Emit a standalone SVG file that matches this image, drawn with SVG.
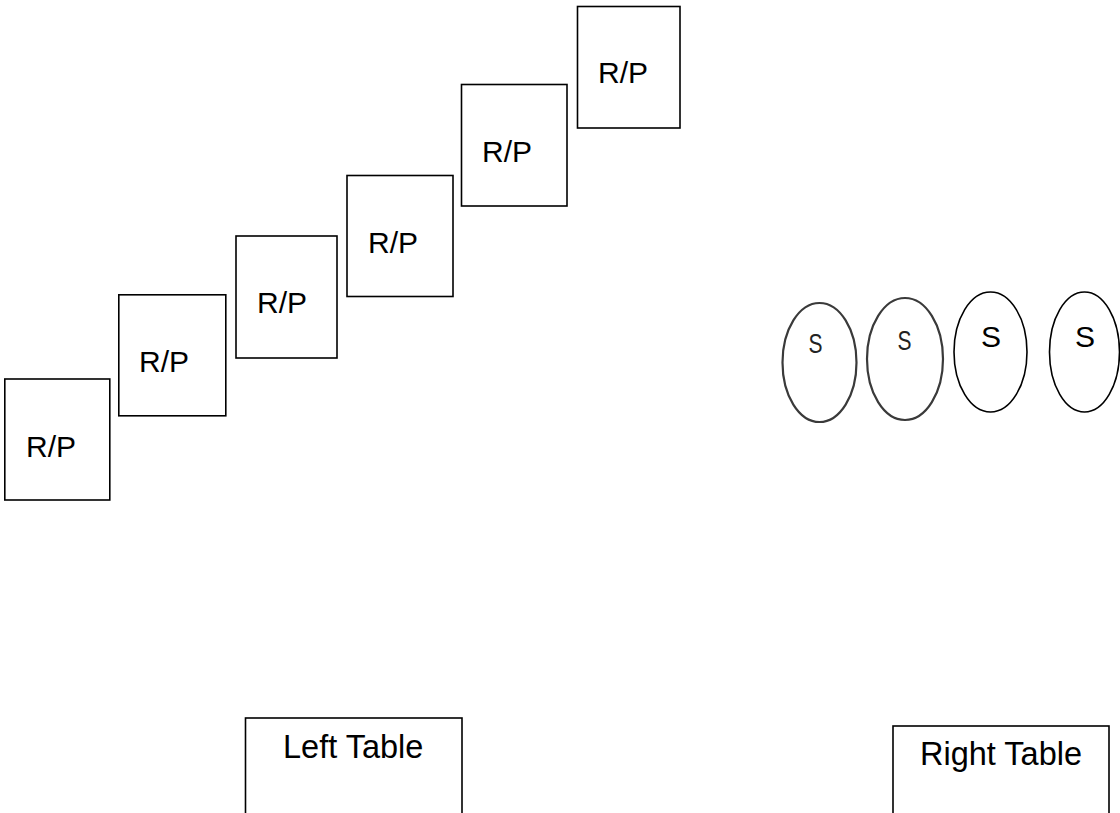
<svg xmlns="http://www.w3.org/2000/svg" width="1120" height="813" viewBox="0 0 1120 813">
<style>
.box{fill:#fff;stroke:#000;stroke-width:1.6}
.lbl{font-family:"Liberation Sans",Arial,sans-serif;font-size:30px;fill:#000}
.tbl{font-family:"Liberation Sans",Arial,sans-serif;font-size:32.5px;fill:#000}
.ell{fill:#fff;stroke:#000;stroke-width:1.6}
.ellg{fill:#fff;stroke:#3a3a3a;stroke-width:2.2}
.sm{font-family:"Liberation Sans",Arial,sans-serif;font-size:28px;fill:#222}
</style>
<rect width="1120" height="813" fill="#fff"/>
<g id="rp1"><rect class="box" x="4.8" y="379" width="105" height="121"/><text class="lbl" x="26" y="457">R/P</text></g>
<g id="rp2"><rect class="box" x="118.8" y="294.8" width="107" height="121"/><text class="lbl" x="139" y="372">R/P</text></g>
<g id="rp3"><rect class="box" x="236" y="236" width="101" height="122"/><text class="lbl" x="257" y="313">R/P</text></g>
<g id="rp4"><rect class="box" x="347" y="175.5" width="106" height="121"/><text class="lbl" x="368" y="253">R/P</text></g>
<g id="rp5"><rect class="box" x="461.5" y="84.5" width="105.5" height="121.5"/><text class="lbl" x="482" y="162">R/P</text></g>
<g id="rp6"><rect class="box" x="577.5" y="6.5" width="102.5" height="121.5"/><text class="lbl" x="598" y="83">R/P</text></g>
<g id="s1"><ellipse class="ellg" cx="819.5" cy="362.5" rx="37" ry="59.5"/><text class="sm" x="815.5" y="353" text-anchor="middle" transform="translate(815.5 0) scale(0.75 1) translate(-815.5 0)">S</text></g>
<g id="s2"><ellipse class="ellg" cx="905" cy="359" rx="38" ry="61"/><text class="sm" x="904.5" y="350" text-anchor="middle" transform="translate(904.5 0) scale(0.75 1) translate(-904.5 0)">S</text></g>
<g id="s3"><ellipse class="ell" cx="990.5" cy="352" rx="36.5" ry="60"/><text class="lbl" x="991" y="347" text-anchor="middle">S</text></g>
<g id="s4"><ellipse class="ell" cx="1084.5" cy="352" rx="35" ry="60"/><text class="lbl" x="1085" y="347" text-anchor="middle">S</text></g>
<g id="leftTable"><rect class="box" x="245.5" y="718" width="216.5" height="110"/><text class="tbl" x="283" y="758">Left Table</text></g>
<g id="rightTable"><rect class="box" x="893" y="726" width="216" height="110"/><text class="tbl" x="920" y="765">Right Table</text></g>
<g id="connectors"></g>
</svg>
